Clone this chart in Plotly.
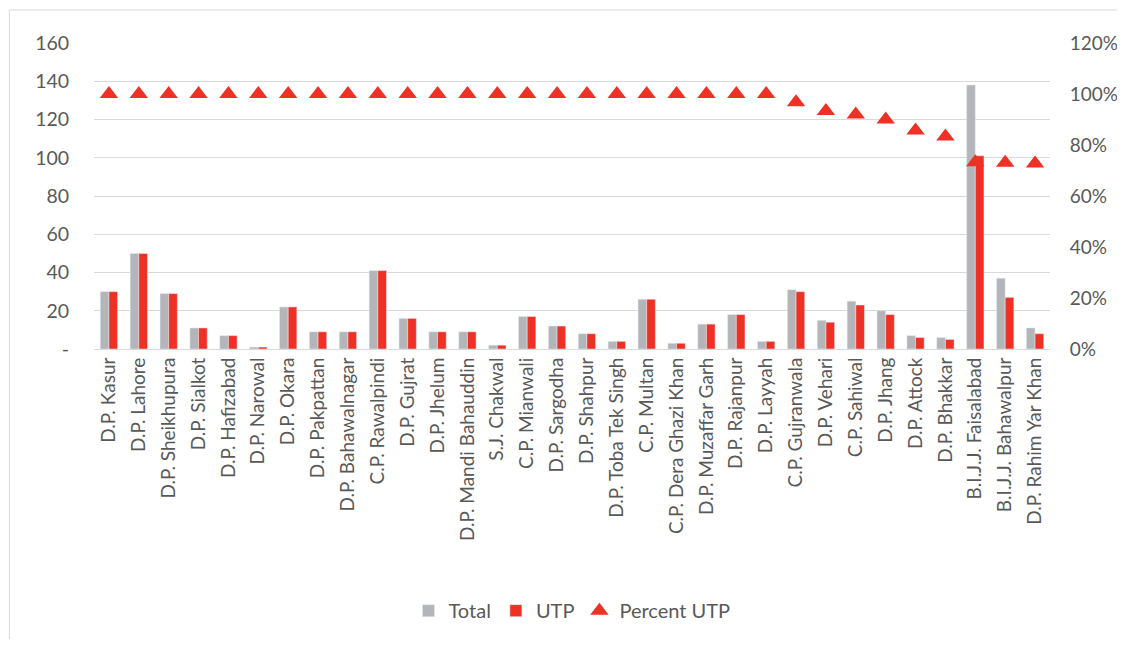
import plotly.graph_objects as go

categories = ["D.P. Kasur", "D.P. Lahore", "D.P. Sheikhupura", "D.P. Sialkot", "D.P. Hafizabad",
              "D.P. Narowal", "D.P. Okara", "D.P. Pakpattan", "D.P. Bahawalnagar", "C.P. Rawalpindi",
              "D.P. Gujrat", "D.P. Jhelum", "D.P. Mandi Bahauddin", "S.J. Chakwal", "C.P. Mianwali",
              "D.P. Sargodha", "D.P. Shahpur", "D.P. Toba Tek Singh", "C.P. Multan", "C.P. Dera Ghazi Khan",
              "D.P. Muzaffar Garh", "D.P. Rajanpur", "D.P. Layyah", "C.P. Gujranwala", "D.P. Vehari",
              "C.P. Sahiwal", "D.P. Jhang", "D.P. Attock", "D.P. Bhakkar", "B.I.J.J. Faisalabad",
              "B.I.J.J. Bahawalpur", "D.P. Rahim Yar Khan"]
total = [30, 50, 29, 11, 7, 1, 22, 9, 9, 41, 16, 9, 9, 2, 17, 12, 8, 4, 26, 3, 13, 18, 4,
         31, 15, 25, 20, 7, 6, 138, 37, 11]
utp = [30, 50, 29, 11, 7, 1, 22, 9, 9, 41, 16, 9, 9, 2, 17, 12, 8, 4, 26, 3, 13, 18, 4,
       30, 14, 23, 18, 6, 5, 101, 27, 8]
percent_utp = [1.0] * 23 + [0.968, 0.933, 0.92, 0.90, 0.857, 0.833, 0.732, 0.73, 0.727]

left_ticks = [0, 20, 40, 60, 80, 100, 120, 140, 160]
left_ticktext = ["-", "20", "40", "60", "80", "100", "120", "140", "160"]
right_ticks = [0, 0.2, 0.4, 0.6, 0.8, 1.0, 1.2]
right_ticktext = ["0%", "20%", "40%", "60%", "80%", "100%", "120%"]

GRAY = "#B4B5B8"
RED = "#EE3124"
TXT = "#595959"
FONT = "Lato"

fig = go.Figure()
fig.add_trace(go.Bar(x=categories, y=total, name="Total", marker_color=GRAY, yaxis="y"))
fig.add_trace(go.Bar(x=categories, y=utp, name="UTP", marker_color=RED, yaxis="y"))
fig.add_trace(go.Scatter(x=categories, y=percent_utp, name="Percent UTP", mode="markers",
                         marker=dict(symbol="triangle-up", size=16, color=RED), yaxis="y2"))

fig.update_layout(
    width=1109, height=631,
    margin=dict(l=86, r=67, t=35, b=290, autoexpand=False),
    paper_bgcolor="white", plot_bgcolor="white",
    barmode="group", bargap=0.42, bargroupgap=0,
    font=dict(family=FONT, color=TXT, size=18),
    xaxis=dict(tickangle=-90, tickfont=dict(size=19, color=TXT), showgrid=False,
               range=[-0.5, len(categories) - 0.5], autorange=False, automargin=False,
               showline=True, linecolor="#D9D9D9", linewidth=1, ticks="", ticklen=0),
    yaxis=dict(range=[0, 160], tickvals=left_ticks, ticktext=left_ticktext, automargin=False,
               showgrid=True, gridcolor="#D9D9D9", gridwidth=1, zeroline=False,
               tickfont=dict(size=19.5, color=TXT), ticks="outside", ticklen=20, tickcolor="white"),
    yaxis2=dict(range=[0, 1.2], tickvals=right_ticks, ticktext=right_ticktext, automargin=False,
                overlaying="y", side="right", showgrid=False, zeroline=False,
                tickfont=dict(size=19, color=TXT), ticks="outside", ticklen=15, tickcolor="white"),
    legend=dict(orientation="h", x=0.5, xanchor="center", y=-0.855, yanchor="middle",
                font=dict(size=20, color=TXT), itemwidth=30, traceorder="normal"),
    showlegend=True,
)
fig.add_shape(type="rect", xref="paper", yref="paper", x0=-0.0885, x1=1.2, y0=-1.2, y1=1.108,
              line=dict(color="#D9D9D9", width=1), fillcolor="rgba(0,0,0,0)", layer="below")

fig.write_html("out.html")
